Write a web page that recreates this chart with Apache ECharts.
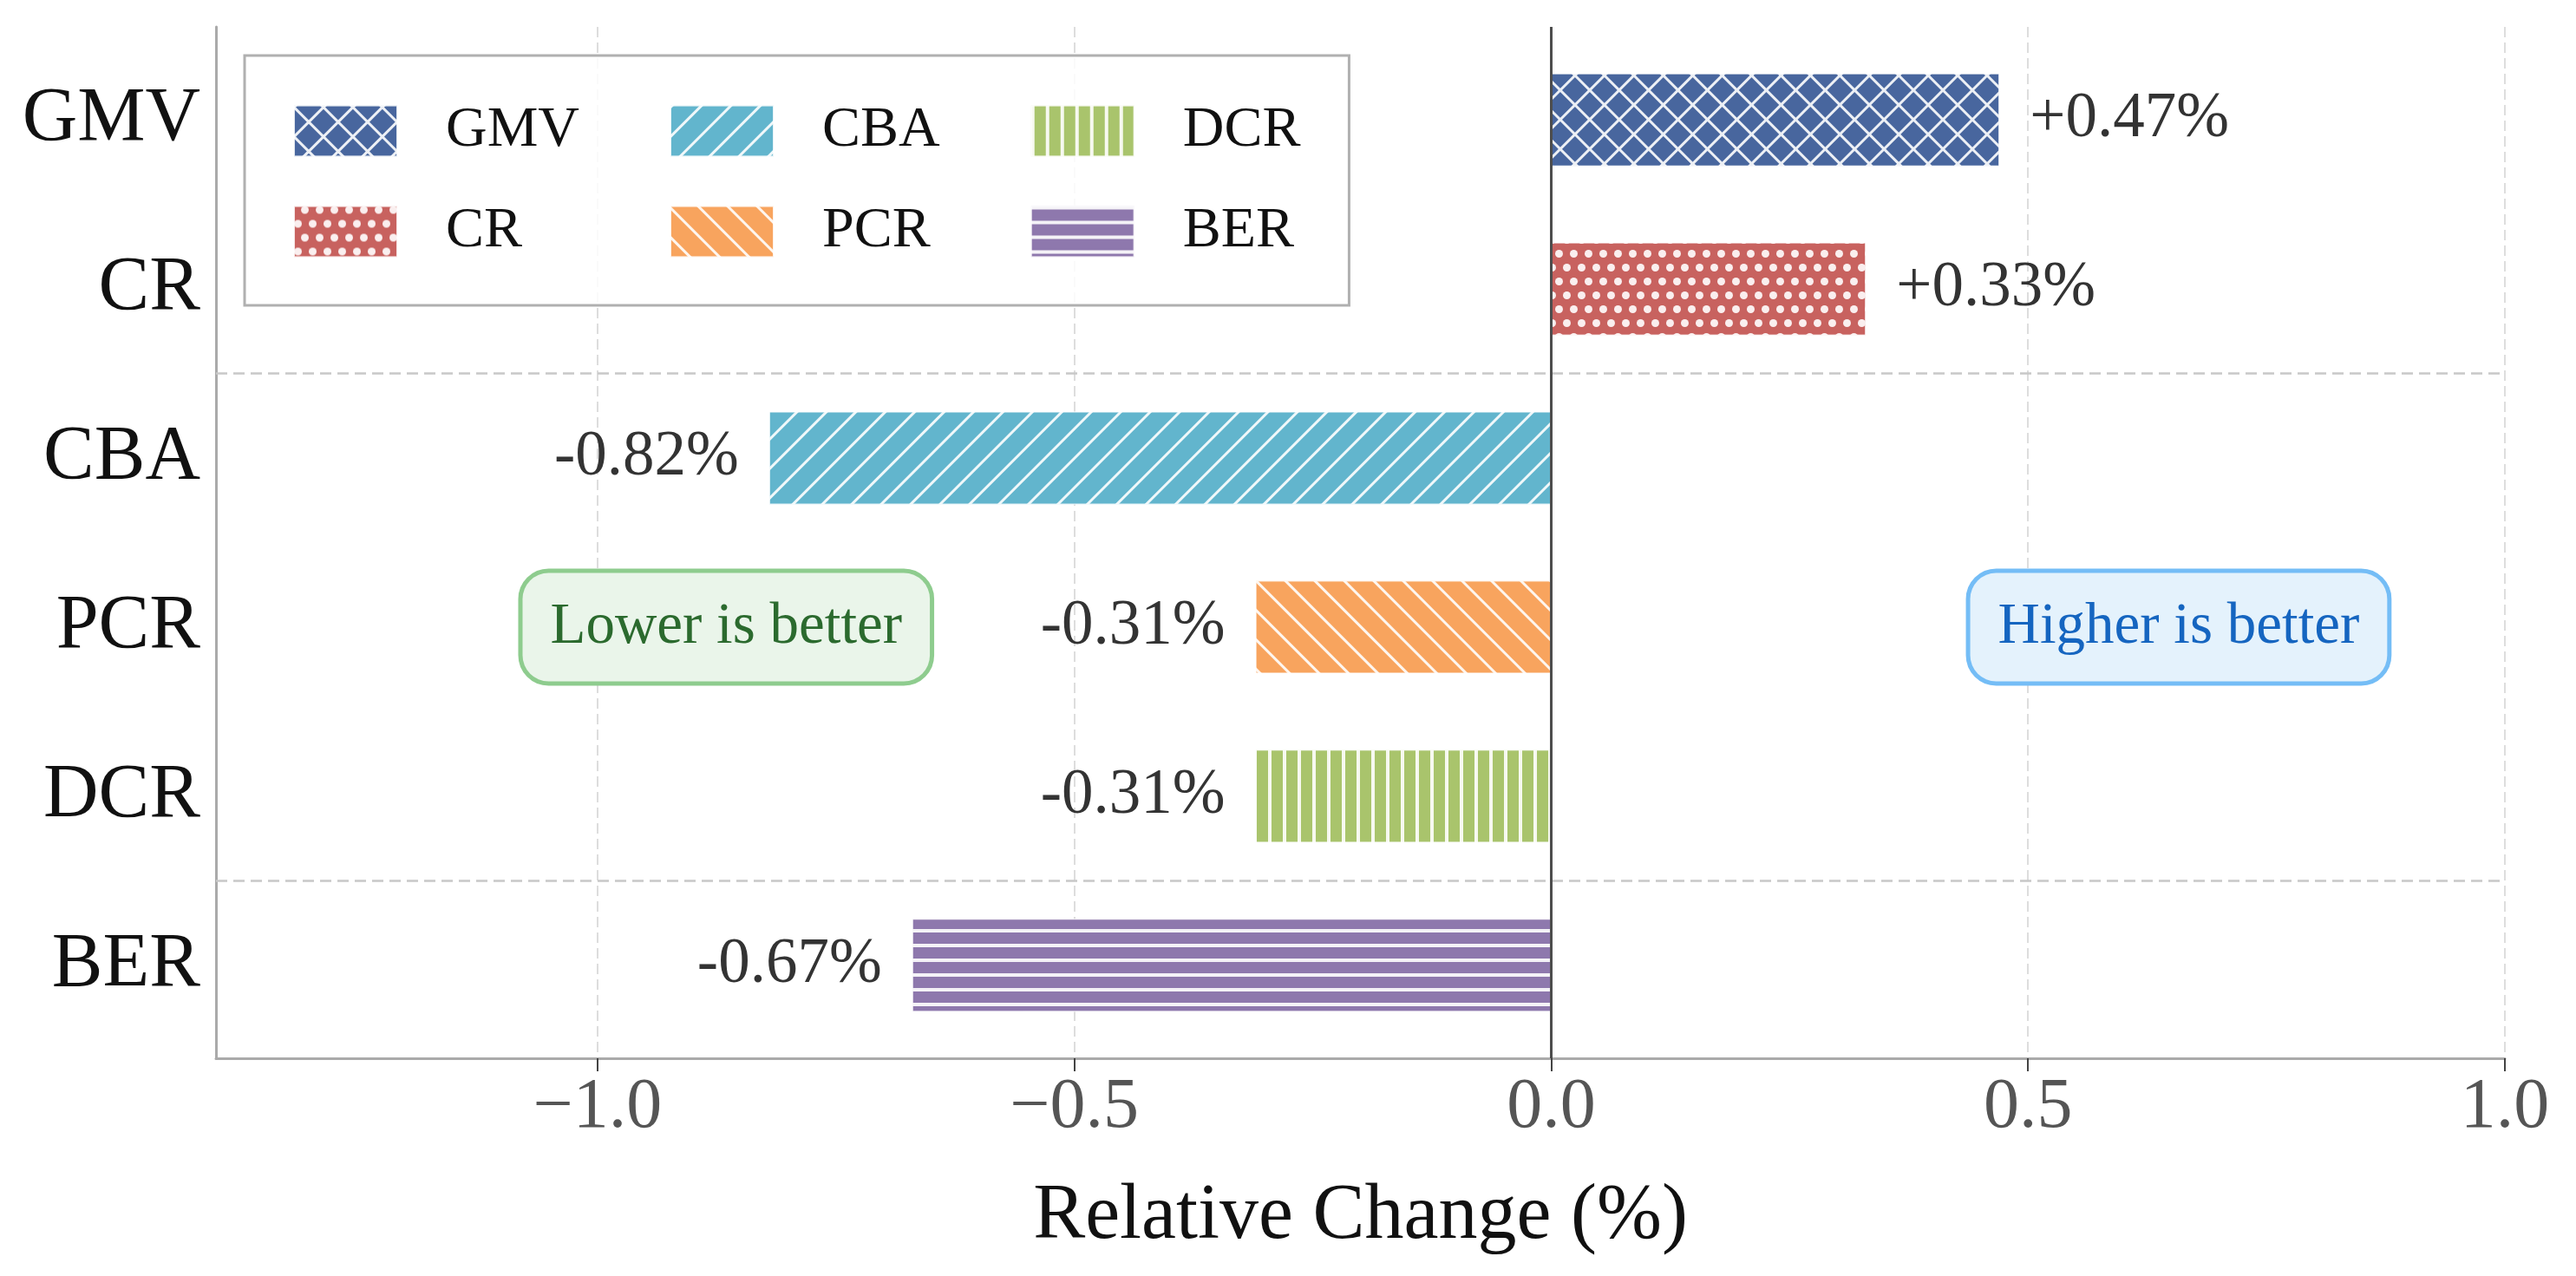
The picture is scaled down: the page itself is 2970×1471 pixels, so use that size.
<!DOCTYPE html>
<html>
<head>
<meta charset="utf-8">
<title>Relative Change</title>
<script src="https://cdn.jsdelivr.net/npm/echarts@6/dist/echarts.min.js"></script>
<style>
  html, body { margin: 0; padding: 0; background: #ffffff; }
  #main { width: 2970px; height: 1471px; }
</style>
</head>
<body>
<div id="main"></div>
<script>
  // data
  var categories = ['GMV', 'CR', 'CBA', 'PCR', 'DCR', 'BER'];
  var values = [0.47, 0.33, -0.82, -0.31, -0.31, -0.67];
  var xTicks = [-1.0, -0.5, 0.0, 0.5, 1.0];
  var groupBreaks = [1.5, 4.5];
  var notes = ['Lower is better', 'Higher is better'];
  var noteX = [-0.865, 0.658];
  var noteRow = 3;

  var colors = ['#48669E', '#C8625F', '#62B5CD', '#F8A45E', '#A9C46C', '#8E78AD'];
  var font = "'Liberation Serif', 'Times New Roman', serif";
  var hatch = 'rgba(255,255,255,0.9)';

  // hatch patterns (x, oo, //, \\, ||, --)
  var decals = {
    GMV: { symbol: 'rect', symbolKeepAspect: false, color: hatch, dashArrayX: [[24, 0], [3, 21]], dashArrayY: [3, 0, 21, 0], rotation: Math.PI / 4 },
    CR:  { symbol: 'circle', color: hatch, dashArrayX: [[9, 8], [0, 8, 9, 0]], dashArrayY: [9, 7] },
    CBA: { symbol: 'rect', symbolKeepAspect: false, color: hatch, dashArrayX: [[24, 0]], dashArrayY: [3, 21], rotation: -Math.PI / 4 },
    PCR: { symbol: 'rect', symbolKeepAspect: false, color: hatch, dashArrayX: [[24, 0]], dashArrayY: [3, 21], rotation: Math.PI / 4 },
    DCR: { symbol: 'rect', symbolKeepAspect: false, color: hatch, dashArrayX: [[4, 13]], dashArrayY: [17, 0] },
    BER: { symbol: 'rect', symbolKeepAspect: false, color: hatch, dashArrayX: [[17, 0]], dashArrayY: [4, 13] }
  };

  // plot frame
  var plotTop = 31, plotBottom = 251, plotLeft = 249, plotRight = 82;
  var yMin = -0.55, yMax = 5.55;
  var unit = (1471 - plotTop - plotBottom) / (yMax - yMin);

  var chart = echarts.init(document.getElementById('main'));

  var barSeries = categories.map(function (name, i) {
    return {
      name: name,
      type: 'bar',
      xAxisIndex: 1,
      yAxisIndex: 1,
      barWidth: '55%',
      barGap: '-100%',
      z: 3,
      data: categories.map(function (c, j) { return j === i ? values[i] : '-'; }),
      itemStyle: {
        color: colors[i],
        decal: decals[name],
        borderColor: 'rgba(255,255,255,0.6)',
        borderWidth: 1
      },
      label: {
        show: true,
        position: values[i] >= 0 ? 'right' : 'left',
        distance: 35,
        fontFamily: font,
        fontSize: 73,
        color: '#333333',
        formatter: function (p) {
          return (p.value > 0 ? '+' : '') + p.value.toFixed(2) + '%';
        }
      }
    };
  });

  var noteStyles = [
    { color: '#2B6A2E', backgroundColor: '#EAF5EA', borderColor: '#8ECC8E' },
    { color: '#1565C0', backgroundColor: '#E4F2FC', borderColor: '#74BDF6' }
  ];

  var frameSeries = {
    name: 'frame',
    type: 'scatter',
    xAxisIndex: 0,
    yAxisIndex: 0,
    data: [],
    silent: true,
    z: 1,
    markLine: {
      silent: true,
      symbol: ['none', 'none'],
      label: { show: false },
      data: groupBreaks.map(function (v) {
        return { yAxis: v, lineStyle: { color: '#c8c8c8', width: 2.5, type: [13, 7] } };
      }).concat([
        { xAxis: 0, lineStyle: { color: '#4d4d4d', width: 3, type: 'solid' } }
      ])
    },
    markPoint: {
      silent: true,
      data: notes.map(function (t, i) {
        return {
          coord: [noteX[i], noteRow],
          symbolSize: 0,
          label: {
            show: true,
            position: 'inside',
            formatter: t,
            fontFamily: font,
            fontSize: 67,
            lineHeight: 67,
            color: noteStyles[i].color,
            backgroundColor: noteStyles[i].backgroundColor,
            borderColor: noteStyles[i].borderColor,
            borderWidth: 5,
            borderRadius: 30,
            padding: [29, 32]
          }
        };
      })
    }
  };

  var option = {
    backgroundColor: '#ffffff',
    animation: false,
    grid: [
      { left: plotLeft, right: plotRight, top: plotTop, bottom: plotBottom },
      { left: plotLeft, right: plotRight, top: plotTop + (0 - 0.5 - yMin) * unit, height: categories.length * unit }
    ],
    legend: {
      data: categories,
      orient: 'vertical',
      left: 282,
      top: 64,
      height: 250,
      padding: [54, 2, 52, 56],
      itemWidth: 119,
      itemHeight: 59,
      itemGap: 50,
      icon: 'rect',
      backgroundColor: 'rgba(255,255,255,0.85)',
      borderColor: '#b0b0b0',
      borderWidth: 3,
      textStyle: {
        fontFamily: font,
        fontSize: 66,
        lineHeight: 59,
        color: '#111111',
        padding: [0, 54, 0, 51]
      }
    },
    xAxis: [
      {
        gridIndex: 0,
        type: 'value',
        min: -1.4,
        max: 1.0,
        axisLine: { show: true, onZero: false, lineStyle: { color: '#aaaaaa', width: 3 } },
        axisTick: { show: true, customValues: xTicks, length: 15, lineStyle: { color: '#444444', width: 2 } },
        axisLabel: {
          customValues: xTicks,
          margin: 16,
          fontFamily: font,
          fontSize: 82,
          color: '#555555',
          formatter: function (v) {
            return (v < 0 ? '\u2212' : '') + Math.abs(v).toFixed(1);
          }
        },
        splitLine: { show: true, lineStyle: { color: '#dddddd', width: 2, type: [12, 6] } },
        name: 'Relative Change (%)',
        nameLocation: 'middle',
        nameGap: 138,
        nameTextStyle: { fontFamily: font, fontSize: 90, color: '#111111' }
      },
      { gridIndex: 1, type: 'value', min: -1.4, max: 1.0, show: false }
    ],
    yAxis: [
      {
        gridIndex: 0,
        type: 'value',
        min: yMin,
        max: yMax,
        inverse: true,
        axisLine: { show: true, onZero: false, lineStyle: { color: '#aaaaaa', width: 3 } },
        axisTick: { show: false },
        axisLabel: { show: false },
        splitLine: { show: false }
      },
      {
        gridIndex: 1,
        type: 'category',
        data: categories,
        inverse: true,
        axisLine: { show: false },
        axisTick: { show: false },
        splitLine: { show: false },
        axisLabel: { margin: 18, fontFamily: font, fontSize: 88, color: '#111111' }
      }
    ],
    series: [frameSeries].concat(barSeries)
  };

  chart.setOption(option);
</script>
</body>
</html>
